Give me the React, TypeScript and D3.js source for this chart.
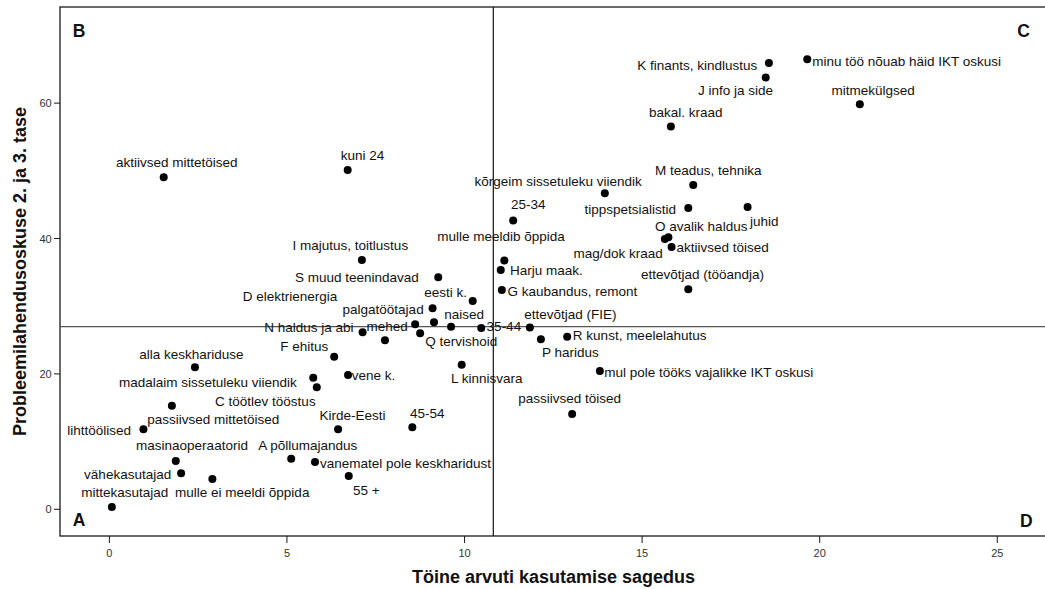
import React from "react";
import * as d3 from "d3";

// ---- data ----
const names: string[] = [
  "mittekasutajad", "vähekasutajad", "masinaoperaatorid", "mulle ei meeldi õppida", "lihttöölised",
  "passiivsed mittetöised", "A põllumajandus", "vanematel pole keskharidust", "Kirde-Eesti", "55 +",
  "45-54", "alla keskhariduse", "madalaim sissetuleku viiendik", "C töötlev tööstus", "F ehitus",
  "vene k.", "L kinnisvara", "I majutus, toitlustus", "S muud teenindavad", "D elektrienergia",
  "palgatöötajad", "eesti k.", "naised", "mehed", "N haldus ja abi",
  "35-44", "Q tervishoid", "", "aktiivsed mittetöised", "kuni 24",
  "25-34", "mulle meeldib õppida", "Harju maak.", "G kaubandus, remont", "ettevõtjad (FIE)",
  "P haridus", "R kunst, meelelahutus", "mul pole tööks vajalikke IKT oskusi", "passiivsed töised", "kõrgeim sissetuleku viiendik",
  "M teadus, tehnika", "tippspetsialistid", "juhid", "O avalik haldus", "mag/dok kraad",
  "aktiivsed töised", "ettevõtjad (tööandja)", "bakal. kraad", "K finants, kindlustus", "J info ja side",
  "minu töö nõuab häid IKT oskusi", "mitmekülgsed",
];

const xValues: number[] = [
  0.07, 2.02, 1.87, 2.90, 0.96,
  1.76, 5.12, 5.79, 6.44, 6.74,
  8.53, 2.41, 5.74, 5.84, 6.33,
  6.72, 9.92, 7.11, 9.26, 9.14,
  9.10, 10.23, 9.62, 8.61, 7.13,
  10.47, 8.75, 7.76, 1.53, 6.71,
  11.37, 11.12, 11.02, 11.05, 11.84,
  12.15, 12.89, 13.81, 13.03, 13.95,
  16.44, 16.30, 17.97, 15.74, 15.64,
  15.83, 16.30, 15.81, 18.57, 18.48,
  19.65, 21.13,
];

const yValues: number[] = [
  0.34, 5.32, 7.14, 4.48, 11.82,
  15.31, 7.48, 6.99, 11.82, 4.92,
  12.12, 20.98, 19.45, 18.03, 22.55,
  19.85, 21.37, 36.84, 34.28, 27.63,
  29.70, 30.78, 26.98, 27.34, 26.16,
  26.79, 26.01, 24.97, 49.06, 50.14,
  42.65, 36.74, 35.36, 32.41, 26.84,
  25.12, 25.51, 20.44, 14.08, 46.70,
  47.92, 44.52, 44.64, 40.19, 39.94,
  38.76, 32.51, 56.54, 65.91, 63.78,
  66.50, 59.85,
];

const xTicks: number[] = [0, 5, 10, 15, 20, 25];
const yTicks: number[] = [0, 20, 40, 60];
const refX = 10.81;
const refY = 26.98;
const xTitle = "Töine arvuti kasutamise sagedus";
const yTitle = "Probleemilahendusoskuse 2. ja 3. tase";
const quadrants = ["A", "B", "C", "D"];

// ---- label placement (pixel offsets from point: left x, vertical centre) ----
const labelOffsets: [number, number][] = [
  [-30.7, -15], [-97, 0.7], [-39.7, -16], [-37.3, 13], [-76.3, 0.7],
  [-24.7, 13.3], [-33, -13.7], [5, 1], [-18.7, -13.8], [4.3, 14],
  [-2.3, -14.3], [-55.7, -12.6], [-194.3, 4.3], [-101.7, 13.7], [-54, -10.7],
  [3.7, 0], [-10.7, 13.6], [-69.3, -15], [-143.3, 0.4], [-191.3, -25.6],
  [-90, 1], [-48.4, -8.3], [-6.7, -12.4], [-48.6, 1.7], [-98.4, -4.6],
  [5.4, -1.3], [5, 8.4], [0, 0], [-47.7, -15.3], [-7, -14.8],
  [-2.3, -16], [-67, -24], [9.3, 0.7], [5.6, 1], [-5.7, -13.7],
  [1, 13], [5.7, -1], [4.3, 1.7], [-54, -16], [-130.4, -11.6],
  [-38.3, -15], [-103.8, 1.3], [2.3, 14], [-13.3, -10.6], [-91.4, 14.3],
  [5, 0.7], [-47.3, -15.3], [-22, -14.7], [-131.7, 1.7], [-67.7, 12.3],
  [5, 1.7], [-28.3, -14.3],
];

const W = 1045;
const H = 589;
const L = 60, R = 1047, T = 7, B = 536;

export default function App() {
  const x = d3.scaleLinear().domain([-1.39, 26.4]).range([L, R]);
  const y = d3.scaleLinear().domain([-3.94, 74.2]).range([B, T]);
  const font = "'Liberation Sans', Arial, Helvetica, sans-serif";
  const quadPos: Record<string, [number, number]> = {
    A: [L + 12.7, B - 10],
    B: [L + 12.7, T + 30.3],
    C: [1017.3, T + 29.7],
    D: [1020, B - 9],
  };

  return (
    <svg
      width={W}
      height={H}
      style={{ position: "absolute", left: 0, top: 0, background: "#fff" }}
      fontFamily={font}
    >
      <rect x={0} y={0} width={W} height={H} fill="#fff" />
      {/* frame */}
      <rect x={L} y={T} width={R - L} height={B - T} fill="none" stroke="#1a1a1a" strokeWidth={1.3} />
      {/* reference lines */}
      <line x1={x(refX)} x2={x(refX)} y1={T} y2={B} stroke="#111" strokeWidth={1.2} />
      <line x1={L} x2={R} y1={y(refY)} y2={y(refY)} stroke="#555" strokeWidth={1.3} />

      {/* x axis ticks */}
      {xTicks.map((t) => (
        <g key={"xt" + t}>
          <line x1={x(t)} x2={x(t)} y1={B} y2={B + 7} stroke="#1a1a1a" strokeWidth={1} />
          <text x={x(t)} y={B + 20.5} textAnchor="middle" fontSize={11} fill="#333">
            {t}
          </text>
        </g>
      ))}
      {/* y axis ticks */}
      {yTicks.map((t) => (
        <g key={"yt" + t}>
          <line x1={L - 6} x2={L} y1={y(t)} y2={y(t)} stroke="#1a1a1a" strokeWidth={1} />
          <text x={L - 8.3} y={y(t) + 4} textAnchor="end" fontSize={11} fill="#333">
            {t}
          </text>
        </g>
      ))}

      {/* axis titles */}
      <text x={(L + R) / 2} y={583} textAnchor="middle" fontSize={18} fontWeight="bold" fill="#111">
        {xTitle}
      </text>
      <text
        transform={`translate(25.5, ${(T + B) / 2}) rotate(-90)`}
        textAnchor="middle"
        fontSize={18}
        fontWeight="bold"
        fill="#111"
      >
        {yTitle}
      </text>

      {/* quadrant letters */}
      {quadrants.map((q) => (
        <text key={q} x={quadPos[q][0]} y={quadPos[q][1]} fontSize={17.5} fontWeight="bold" fill="#111">
          {q}
        </text>
      ))}

      {/* points */}
      {names.map((n, i) => (
        <circle key={"p" + i} cx={x(xValues[i])} cy={y(yValues[i])} r={4} fill="#000" />
      ))}
      {/* labels */}
      {names.map((n, i) =>
        n ? (
          <text
            key={"l" + i}
            x={x(xValues[i]) + labelOffsets[i][0]}
            y={y(yValues[i]) + labelOffsets[i][1] + 4.8}
            fontSize={13.5}
            fill="#111"
          >
            {n}
          </text>
        ) : null
      )}
    </svg>
  );
}
